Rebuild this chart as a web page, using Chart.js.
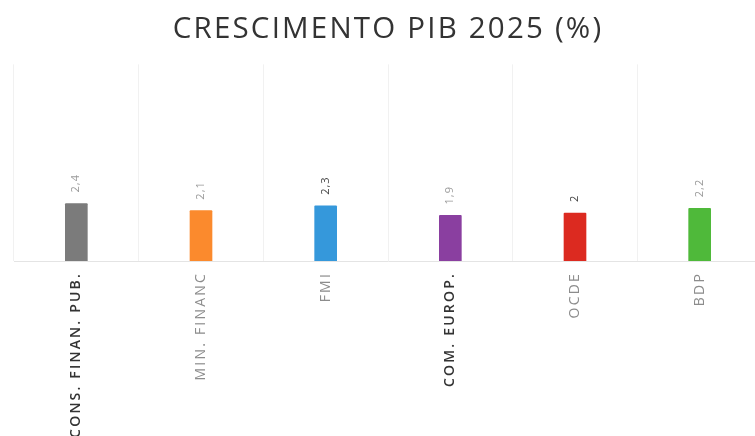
<!DOCTYPE html>
<html>
<head>
<meta charset="utf-8">
<script src="https://cdn.jsdelivr.net/npm/chart.js@4/dist/chart.umd.min.js"></script>
<style>
  html, body { margin: 0; padding: 0; background: #fff; overflow: hidden; }
  #wrap { width: 762px; height: 436px; }
</style>
</head>
<body>
<div id="wrap"><canvas id="chart"></canvas></div>
<script>
// data
const categories = ['CONS. FINAN. PUB.', 'MIN. FINANC', 'FMI', 'COM. EUROP.', 'OCDE', 'BDP'];
const growth = [2.4, 2.1, 2.3, 1.9, 2, 2.2];
const barColors = ['#7b7b7b', '#fb8a2d', '#3598db', '#8a3fa0', '#dc2a20', '#4fb93a'];
const tickColors = ['#333333', '#8c8c8c', '#8c8c8c', '#333333', '#8c8c8c', '#8c8c8c'];
const valueColors = ['#9a9a9a', '#9a9a9a', '#444444', '#9a9a9a', '#444444', '#9a9a9a'];

const spacing = {
    id: 'spacing',
    beforeLayout(chart) { chart.ctx.letterSpacing = '2.2px'; },
    beforeDraw(chart) { chart.ctx.letterSpacing = '2.2px'; }
};

const valueLabels = {
    id: 'valueLabels',
    afterDatasetsDraw(chart) {
        const ctx = chart.ctx;
        chart.getDatasetMeta(0).data.forEach((bar, i) => {
            ctx.save();
            ctx.letterSpacing = '1px';
            ctx.translate(bar.x, bar.y - 11);
            ctx.rotate(-Math.PI / 2);
            ctx.font = '11px "Open Sans"';
            ctx.fillStyle = valueColors[i];
            ctx.textAlign = 'left';
            ctx.textBaseline = 'middle';
            ctx.fillText(String(growth[i]).replace('.', ','), 0, 0);
            ctx.restore();
        });
    }
};

new Chart(document.getElementById('chart').getContext('2d'), {
    type: 'bar',
    data: {
        labels: categories,
        datasets: [{
            data: growth,
            backgroundColor: barColors,
            borderRadius: 1,
            barThickness: 22
        }]
    },
    plugins: [spacing, valueLabels],
    options: {
        responsive: true,
        maintainAspectRatio: false,
        animation: false,
        layout: { padding: { left: 14, right: 0, top: 0, bottom: 0 } },
        plugins: {
            legend: { display: false },
            tooltip: { enabled: false },
            title: {
                display: true,
                text: 'CRESCIMENTO PIB 2025 (%)',
                color: '#333333',
                font: { family: "'Open Sans'", size: 29.5, weight: 'normal', lineHeight: 1.2 },
                padding: { top: 12, bottom: 17 }
            }
        },
        scales: {
            x: {
                grid: { color: '#f1f1f1', drawTicks: false },
                border: { display: true, color: '#e4e4e4' },
                ticks: {
                    minRotation: 90,
                    maxRotation: 90,
                    autoSkip: false,
                    padding: 11,
                    color: c => tickColors[c.index],
                    font: c => ({
                        family: "'Open Sans'",
                        size: 14,
                        weight: tickColors[c.index] === '#333333' ? '600' : 'normal'
                    })
                },
                afterFit(scale) { scale.height = 175; }
            },
            y: {
                display: false,
                min: 0,
                max: 8.2
            }
        }
    }
});
</script>
</body>
</html>
